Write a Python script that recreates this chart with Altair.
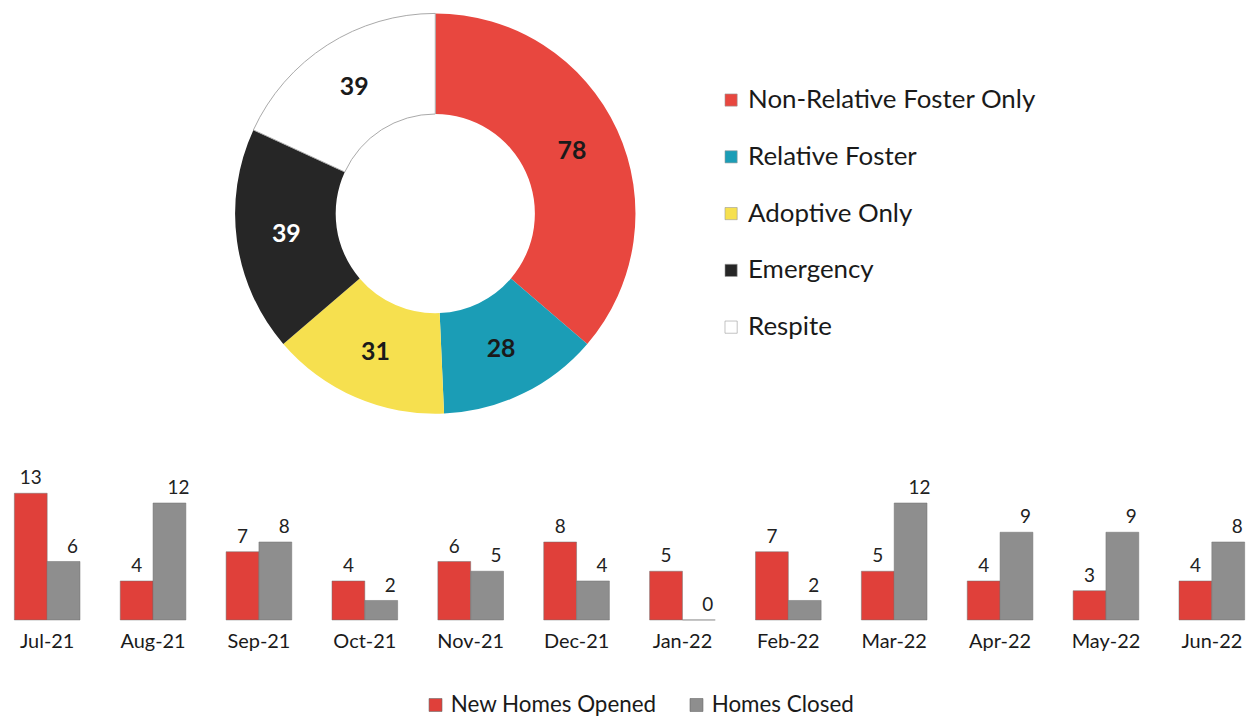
import altair as alt
import pandas as pd

# ---- donut data ----
donut_cats = ["Non-Relative Foster Only", "Relative Foster", "Adoptive Only", "Emergency", "Respite"]
donut_vals = [78, 28, 31, 39, 39]
donut_colors = ["#E8473F", "#1B9DB6", "#F6E04F", "#262626", "#FFFFFF"]

# ---- bar data ----
months = ["Jul-21", "Aug-21", "Sep-21", "Oct-21", "Nov-21", "Dec-21",
          "Jan-22", "Feb-22", "Mar-22", "Apr-22", "May-22", "Jun-22"]
opened = [13, 4, 7, 4, 6, 8, 5, 7, 5, 4, 3, 4]
closed = [6, 12, 8, 2, 5, 4, 0, 2, 12, 9, 9, 8]
series_names = ["New Homes Opened", "Homes Closed"]
series_colors = ["#E0403A", "#8E8E8E"]

FONT = "Lato"

ddf = pd.DataFrame({"cat": donut_cats, "value": donut_vals, "order": list(range(len(donut_cats)))})

base = alt.Chart(ddf).encode(
    theta=alt.Theta("value:Q", stack=True),
    order=alt.Order("order:Q"),
    x=alt.value(429),
    y=alt.value(205),
)

arc = base.mark_arc(innerRadius=100, outerRadius=201, strokeWidth=1).encode(
    color=alt.Color(
        "cat:N",
        sort=donut_cats,
        scale=alt.Scale(domain=donut_cats, range=donut_colors),
        legend=alt.Legend(
            title=None, orient="none", legendX=713, legendY=78,
            labelFontSize=26, labelFont=FONT, labelColor="#1a1a1a", labelLimit=500,
            symbolType="square", symbolSize=150, rowPadding=31, labelOffset=4,
            symbolStrokeColor="#999999", symbolStrokeWidth=0.6,
        ),
    ),
    stroke=alt.condition(alt.datum.cat == "Respite", alt.value("#a8a8a8"), alt.value("transparent")),
)

labels = base.mark_text(radius=151, font=FONT, fontSize=25, fontWeight="bold").encode(
    text="value:Q",
    color=alt.condition(alt.datum.cat == "Emergency", alt.value("#FFFFFF"), alt.value("#1a1a1a")),
)

top = alt.layer(arc, labels).properties(width=1243, height=420)

# ---- bars ----
rows = []
for m, o, c in zip(months, opened, closed):
    rows.append({"month": m, "series": series_names[0], "value": o})
    rows.append({"month": m, "series": series_names[1], "value": c})
bdf = pd.DataFrame(rows)

bbase = alt.Chart(bdf).encode(
    x=alt.X("month:N", sort=months,
            scale=alt.Scale(paddingInner=0.38, paddingOuter=0.06),
            axis=alt.Axis(title=None, labelAngle=0, labelFontSize=20, labelFont=FONT,
                          ticks=False, domain=False, labelPadding=12, labelColor="#1a1a1a")),
    xOffset=alt.XOffset("series:N", sort=series_names),
    y=alt.Y("value:Q", scale=alt.Scale(domain=[0, 14], nice=False), axis=None),
)

bars = bbase.mark_bar(stroke="#6f6f6f", strokeWidth=0.5).encode(
    color=alt.Color("series:N", sort=series_names,
                    scale=alt.Scale(domain=series_names, range=series_colors),
                    legend=alt.Legend(title=None, orient="none", direction="horizontal",
                                      legendX=418, legendY=211,
                                      labelFontSize=22.5, labelFont=FONT, labelColor="#1a1a1a",
                                      labelLimit=400,
                                      symbolType="square", symbolSize=169, columnPadding=28,
                                      labelOffset=4,
                                      symbolStrokeColor="#666666", symbolStrokeWidth=0.6)),
)

open_labels = bbase.mark_text(dy=-15, dx=0, fontSize=19, font=FONT, color="#222222").encode(
    text="value:Q"
).transform_filter(alt.datum.series == series_names[0])

closed_labels = bbase.mark_text(dy=-15, dx=9, fontSize=19, font=FONT, color="#222222").encode(
    text="value:Q"
).transform_filter(alt.datum.series == series_names[1])

bottom = alt.layer(bars, open_labels, closed_labels).properties(width=1248, height=137)

chart = (
    alt.vconcat(top, bottom, spacing=41)
    .resolve_scale(color="independent")
    .resolve_legend(color="independent")
    .properties(padding=0)
    .configure_view(stroke=None)
)

chart.save("out.html", embed_options={"renderer": "svg", "actions": False})
